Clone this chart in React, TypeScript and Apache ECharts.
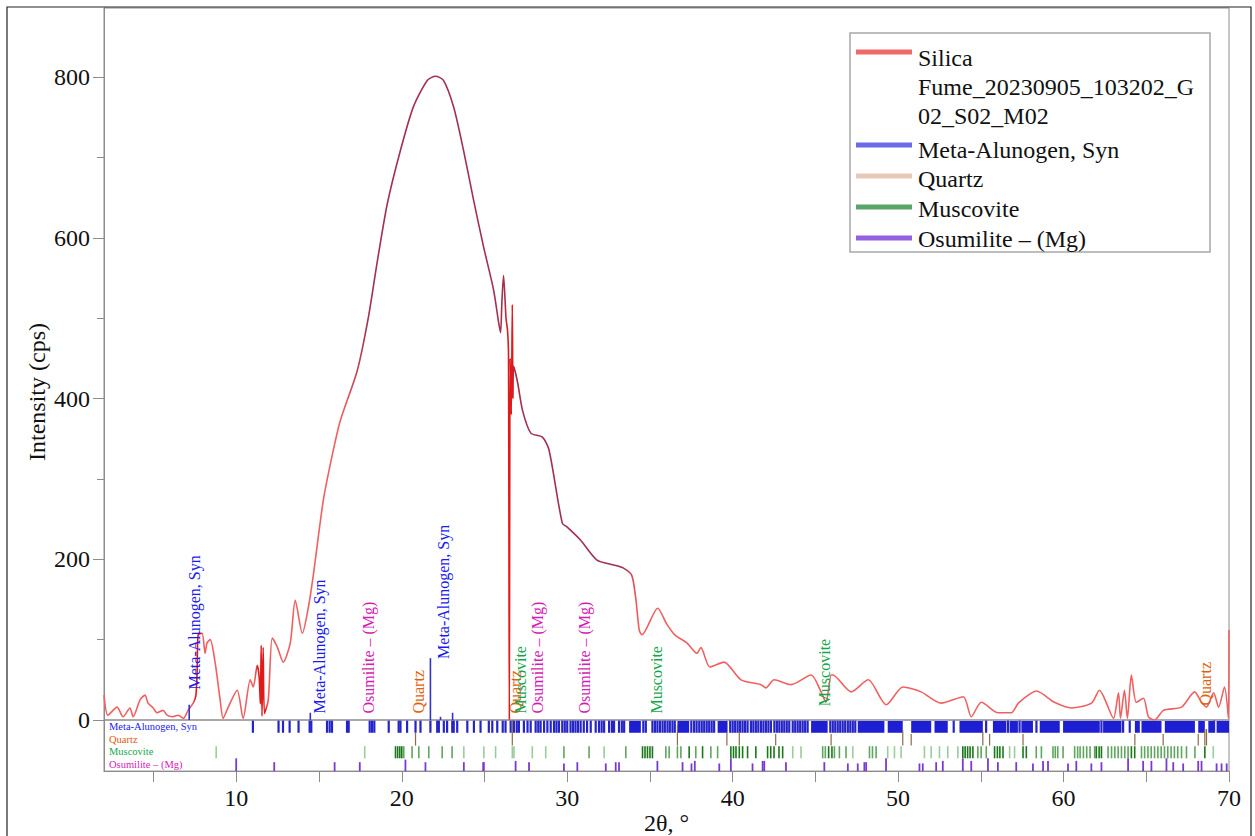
import React, { useEffect, useRef } from "react";
import * as echarts from "echarts";

// Diffraction pattern (2θ in degrees, intensity in cps)
const twoTheta: number[] = [
  2.0, 2.24, 2.79, 3.15, 3.57, 3.76, 4.18, 4.48, 4.66, 4.97, 5.21, 5.57, 5.81, 6.12, 6.48, 6.8,
  7.08, 7.39, 7.55, 7.63, 7.69, 7.93, 8.11, 8.23, 8.42, 8.72, 9.02, 9.2, 9.51, 10.05, 10.41,
  10.84, 11.02, 11.26, 11.38, 11.45, 11.5, 11.55, 11.62, 11.7, 11.93, 12.17, 12.47, 12.84,
  13.26, 13.56, 13.99, 14.35, 14.65, 15.26, 15.8, 16.29, 17.31, 17.98, 18.53, 19.13, 19.92,
  20.7, 21.55, 22.04, 22.52, 23.13, 23.73, 24.34, 24.94, 25.55, 25.85, 25.97, 26.05, 26.15,
  26.3, 26.39, 26.45, 26.5, 26.55, 26.62, 26.68, 26.72, 26.76, 27.0, 27.3, 27.8, 28.5, 28.9,
  29.7, 30.0, 30.8, 31.8, 32.8, 33.4, 33.9, 34.15, 34.35, 34.51, 35.47, 36.0, 36.5, 37.23,
  37.84, 38.08, 38.62, 39.47, 40.5, 41.71, 42.01, 42.5, 43.53, 44.74, 45.34, 45.64, 45.95,
  46.05, 47.16, 48.19, 49.28, 50.3, 51.39, 52.6, 53.94, 54.42, 55.03, 56.05, 56.84, 57.27,
  58.36, 59.45, 60.47, 61.69, 62.17, 62.47, 63.02, 63.32, 63.44, 63.68, 63.86, 64.1, 64.4,
  64.83, 65.13, 65.5, 66.04, 67.13, 67.92, 68.34, 68.64, 69.07, 69.37, 69.73, 69.97, 70.0,
];
const intensity: number[] = [
  31, 6, 16, 4, 15, 4, 25, 31, 21, 15, 9, 12, 6, 4, 6, 2,
  12, 21, 30, 60, 106, 108, 83, 96, 100, 71, 25, 2, 16, 37, 2,
  50, 41, 68, 53, 20, 93, 5, 90, 8, 25, 102, 91, 72,
  96, 149, 108, 140, 180, 274, 330, 373, 435, 501, 572, 643, 709,
  763, 796, 801, 796, 763, 709, 647, 589, 535, 495, 482, 520, 553,
  500, 485, 455, 0, 450, 380, 517, 400, 440, 420, 385, 357, 352, 336,
  245, 240, 224, 199, 193, 189, 180, 150, 112, 106, 139, 120, 106, 96,
  83, 90, 66, 72, 50, 44, 40, 50, 44, 56, 35, 22, 56,
  56, 35, 50, 19, 41, 35, 21, 29, 4, 22, 9, 9, 21,
  36, 22, 15, 21, 37, 27, 2, 34, 2, 37, 2, 56, 22,
  27, 4, 0, 12, 16, 35, 22, 16, 34, 16, 41, 2, 112,
];

const sampleName = "Silica Fume_20230905_103202_G02_S02_M02";
const phaseNames = ["Meta-Alunogen, Syn", "Quartz", "Muscovite", "Osumilite – (Mg)"];

const yLabelTicks = [0, 200, 400, 600, 800];
const yMinorTicks = [100, 300, 500, 700];
const xTickValues = [5, 10, 15, 20, 25, 30, 35, 40, 45, 50, 55, 60, 65, 70];
const xLabelValues = [10, 20, 30, 40, 50, 60, 70];

// Meta-Alunogen reference lines shown in the pattern panel [2θ, intensity]
const metaPeaks: number[][] = [[7.15, 19], [14.47, 9], [21.73, 77], [22.34, 4], [23.07, 9]];

// Phase identifications written above the pattern [phase index, 2θ, intensity]
const peakLabels: number[][] = [
  [0, 7.45, 33], [0, 15.0, 3], [3, 17.98, 3], [1, 21.0, 3], [0, 22.54, 71],
  [1, 26.9, 3], [2, 27.2, 3], [3, 28.2, 3], [3, 31.06, 3], [2, 35.39, 3],
  [2, 45.58, 12], [1, 68.6, 13],
];

// Stick-pattern rows below the pattern
const metaSticks: number[] = [
  11.0, 12.55, 12.82, 13.22, 13.76, 14.43, 14.53, 15.48, 15.64, 15.78, 16.69, 16.79, 18.06,
  18.2, 18.34, 19.21, 19.81, 19.92, 20.32, 20.83, 21.13, 21.73, 22.14, 22.24, 22.54, 22.74,
  23.05, 23.14, 23.35, 23.96, 24.36, 24.76, 25.26, 25.47, 25.77, 26.1, 26.27, 26.58, 26.78,
  26.95, 27.08, 27.38, 27.6, 27.79, 28.09, 28.25, 28.39, 28.6, 28.8, 29.0, 29.2, 29.35, 29.5,
  29.7, 29.85, 30.0, 30.2, 30.35, 30.5, 30.65, 30.81, 31.0, 31.2, 31.42, 31.72, 31.92, 32.08,
  32.23, 32.53, 32.7, 32.83, 33.13, 33.3, 33.44, 34.6, 34.75, 35.15, 35.3, 35.45, 35.6, 35.76,
  35.9, 36.06, 36.2, 36.36, 36.5, 37.5, 37.67, 37.82, 37.98, 38.13, 38.28, 38.43, 38.58, 38.73,
  38.88, 39.85, 40.0, 40.15, 40.3, 40.45, 40.6, 40.75, 40.9, 41.1, 41.25, 41.4, 41.55, 41.71,
  41.86, 42.01, 42.16, 42.31, 42.52, 42.67, 42.82, 42.97, 43.12, 43.27, 43.42, 43.63, 43.78,
  43.93, 44.08, 44.23, 44.38, 44.53, 45.9, 46.05, 46.2, 46.35, 46.5, 46.65, 46.8, 46.96, 47.11,
  47.26, 47.41, 53.36, 55.32, 56.64, 57.34, 58.36, 62.29, 63.6, 64.0, 69.1,
];
const metaBands: number[][] = [
  [33.74, 34.45], [36.66, 37.37], [39.09, 39.69], [44.74, 45.74], [47.56, 49.17], [49.37, 50.28],
  [50.79, 52.0], [52.2, 53.0], [53.71, 55.12], [55.73, 56.54], [56.74, 57.24], [57.45, 58.15],
  [58.56, 59.77], [59.97, 62.19], [62.39, 63.5], [64.31, 64.61], [64.71, 65.92], [66.12, 67.94],
  [68.14, 68.54], [68.75, 69.05], [69.25, 70.0],
];
// [2θ, relative height]
const quartzSticks: number[][] = [
  [20.83, 1], [26.68, 2], [36.66, 1.6], [39.65, 1], [40.4, 1.1], [42.6, 0.9], [45.95, 0.9],
  [50.28, 1.2], [50.79, 0.9], [55.12, 1.1], [55.53, 0.9], [57.55, 0.9], [64.31, 0.9],
  [66.02, 0.9], [68.14, 0.9], [68.54, 1.3], [68.64, 1.3],
];
// [2θ, relative intensity]
const muscoviteSticks: number[][] = [
  [8.78, 0.4], [17.76, 0.4], [19.62, 0.8], [19.75, 0.8], [19.88, 0.8], [20.0, 0.8], [20.12, 0.6],
  [20.62, 0.5], [21.03, 0.5], [21.63, 0.5], [22.44, 0.5], [23.04, 0.5], [23.75, 0.4],
  [24.96, 0.4], [25.67, 0.4], [26.68, 0.4], [26.78, 0.4], [27.89, 0.4], [28.7, 0.4], [29.8, 0.5],
  [31.32, 0.5], [32.23, 0.4], [33.54, 0.5], [34.55, 0.9], [34.7, 0.9], [34.85, 0.9], [35.0, 0.9],
  [35.15, 0.9], [35.96, 0.6], [36.16, 0.6], [36.66, 0.5], [36.87, 0.5], [37.37, 0.9],
  [37.77, 0.6], [38.18, 0.9], [38.68, 0.5], [39.09, 0.5], [39.89, 0.9], [40.05, 0.9],
  [40.2, 0.9], [40.4, 0.9], [40.6, 0.9], [40.9, 0.9], [41.4, 0.9], [42.11, 0.8], [42.3, 0.8],
  [42.5, 0.9], [42.8, 0.9], [43.02, 0.9], [43.63, 0.4], [44.13, 0.4], [45.44, 0.5], [45.6, 0.5],
  [45.8, 0.9], [46.0, 0.9], [46.15, 0.6], [46.45, 0.6], [46.85, 0.6], [47.26, 0.4], [48.27, 0.5],
  [48.45, 0.5], [48.67, 0.5], [49.37, 0.4], [49.78, 0.4], [50.18, 0.4], [51.59, 0.4],
  [52.0, 0.4], [52.5, 0.4], [53.0, 0.4], [53.61, 0.4], [53.91, 1], [54.05, 1], [54.2, 1],
  [54.35, 1], [54.52, 0.9], [54.82, 0.5], [55.02, 0.5], [55.33, 0.5], [55.83, 1], [56.0, 1],
  [56.15, 1], [56.34, 1], [56.74, 0.4], [57.04, 0.4], [57.55, 1], [57.75, 1], [58.35, 0.5],
  [58.66, 0.5], [59.36, 0.7], [59.5, 0.7], [59.65, 0.7], [59.97, 0.7], [60.67, 0.5],
  [60.85, 0.5], [61.0, 0.6], [61.2, 0.6], [61.4, 0.6], [61.6, 0.6], [61.88, 0.7], [61.98, 1],
  [62.15, 1], [62.29, 1], [62.69, 0.6], [62.9, 0.6], [63.1, 0.6], [63.3, 0.6], [63.5, 0.6],
  [63.7, 0.6], [63.9, 0.6], [64.1, 1], [64.3, 1], [64.71, 0.6], [64.9, 0.5], [65.1, 0.6],
  [65.3, 0.5], [65.5, 0.6], [65.7, 0.5], [65.9, 0.6], [66.1, 0.5], [66.3, 0.6], [66.5, 0.5],
  [66.7, 0.6], [66.9, 0.5], [67.13, 0.6], [67.43, 0.5], [67.94, 0.5], [68.54, 1], [69.05, 0.4],
];
// [2θ, relative height]
const osumiliteSticks: number[][] = [
  [9.99, 1], [12.29, 0.7], [15.94, 0.7], [17.46, 0.7], [20.22, 0.9], [21.43, 0.7], [23.75, 0.7],
  [24.92, 0.7], [24.96, 0.7], [26.88, 0.8], [27.69, 0.7], [29.8, 0.6], [30.61, 0.7], [32.33, 0.6],
  [32.93, 0.7], [33.13, 0.7], [35.45, 0.8], [36.97, 0.7], [37.51, 0.6], [37.71, 0.8], [39.19, 0.6],
  [39.89, 1], [41.2, 0.6], [41.81, 0.8], [41.91, 0.8], [43.22, 0.7], [45.54, 0.7], [46.96, 0.6],
  [47.56, 0.6], [48.07, 0.7], [47.96, 0.7], [49.27, 1], [51.29, 0.6], [51.49, 0.6], [52.3, 0.7],
  [52.7, 0.8], [53.91, 1], [54.42, 0.8], [55.43, 1], [56.03, 0.7], [57.14, 0.7], [58.15, 0.6],
  [58.76, 0.8], [59.06, 0.8], [60.27, 0.6], [60.77, 0.8], [61.68, 0.6], [62.29, 0.7],
  [63.9, 1], [64.81, 0.8], [65.31, 0.8], [66.22, 1], [66.63, 0.7], [67.23, 0.6], [68.14, 0.8],
  [68.34, 0.8], [69.25, 0.6], [69.55, 0.6], [69.86, 0.6],
];

const FONT = "Liberation Serif, Times New Roman, serif";
const font = (px: number) => `${px}px ${FONT}`;
const phaseLabelColors = ["#1a1af0", "#e0600c", "#12a84a", "#d41cb4"];
const legendColors = ["#ee6a6a", "#6b6be8", "#e8c8b8", "#5aa56a", "#9560e0"];
const AXIS_GRAY = "#8c8c8c";

function stickSeries(name: string, data: number[][], row: number, draw: (x: number, bottom: number, band: number, v: number[]) => any) {
  return {
    type: "custom",
    name,
    xAxisIndex: 1,
    yAxisIndex: 2,
    silent: true,
    data,
    renderItem: (_p: any, api: any) => {
      const v = [api.value(0), api.value(1)];
      const c = api.coord([v[0], row]);
      const band = api.size([0, 1])[1];
      return draw(c[0], c[1] + band / 2, band, v);
    },
  };
}

export default function App() {
  const ref = useRef<HTMLDivElement>(null);

  useEffect(() => {
    if (!ref.current) return;
    const chart = echarts.init(ref.current, undefined, { renderer: "svg" });

    const curve = twoTheta.map((x, i) => [x, intensity[i]]);
    const salmon = "#f06060";
    const dark = "#a2304e";
    const hot = "#e01a1a";
    const lineGradient = new echarts.graphic.LinearGradient(0, 0, 1, 0, [
      { offset: 0, color: salmon },
      { offset: 0.079, color: salmon },
      { offset: 0.081, color: hot },
      { offset: 0.086, color: hot },
      { offset: 0.088, color: salmon },
      { offset: 0.134, color: salmon },
      { offset: 0.137, color: hot },
      { offset: 0.143, color: hot },
      { offset: 0.146, color: salmon },
      { offset: 0.21, color: salmon },
      { offset: 0.235, color: dark },
      { offset: 0.356, color: dark },
      { offset: 0.3585, color: hot },
      { offset: 0.363, color: hot },
      { offset: 0.3655, color: dark },
      { offset: 0.46, color: dark },
      { offset: 0.475, color: salmon },
      { offset: 1, color: salmon },
    ]);

    const legendTop = 33;
    const legendLeft = 850;
    const legendRows = [
      { text: sampleName, color: legendColors[0], textY: 43, iconY: 52 },
      { text: phaseNames[0], color: legendColors[1], textY: 135, iconY: 145 },
      { text: phaseNames[1], color: legendColors[2], textY: 164, iconY: 176 },
      { text: phaseNames[2], color: legendColors[3], textY: 194, iconY: 207 },
      { text: phaseNames[3], color: legendColors[4], textY: 224, iconY: 238 },
    ];
    const legendChildren: any[] = [
      {
        type: "rect",
        shape: { x: legendLeft, y: legendTop, width: 360, height: 219 },
        style: { fill: "#fff", stroke: "#a8a8a8", lineWidth: 1.5 },
      },
    ];
    legendRows.forEach((r) => {
      legendChildren.push({
        type: "line",
        shape: { x1: legendLeft + 6, y1: r.iconY, x2: legendLeft + 62, y2: r.iconY },
        style: { stroke: r.color, lineWidth: 5 },
      });
      legendChildren.push({
        type: "text",
        x: legendLeft + 68,
        y: r.textY,
        style: {
          text: r.text,
          width: 285,
          overflow: "break",
          lineHeight: 29,
          font: font(24),
          fill: "#111",
          align: "left",
          verticalAlign: "top",
        },
      });
    });

    const option: any = {
      animation: false,
      backgroundColor: "#fff",
      textStyle: { fontFamily: FONT },
      grid: [
        { left: 104, top: 8, width: 1125, height: 712, show: true, borderColor: AXIS_GRAY, borderWidth: 1 },
        { left: 104, top: 720, width: 1125, height: 57, show: true, borderColor: AXIS_GRAY, borderWidth: 1 },
      ],
      xAxis: [
        { gridIndex: 0, type: "value", min: 2, max: 70, show: false },
        {
          gridIndex: 1,
          type: "value",
          min: 2,
          max: 70,
          name: "2θ, °",
          nameLocation: "middle",
          nameGap: 32,
          nameTextStyle: { fontFamily: FONT, fontSize: 24, color: "#111" },
          axisLine: { show: true, lineStyle: { color: AXIS_GRAY } },
          axisTick: { show: true, customValues: xTickValues, length: 11, lineStyle: { color: AXIS_GRAY } },
          axisLabel: { customValues: xLabelValues, fontFamily: FONT, fontSize: 24, color: "#111", margin: 15 },
          splitLine: { show: false },
        },
      ],
      yAxis: [
        {
          gridIndex: 0,
          type: "value",
          min: 0,
          max: 886,
          axisLine: { show: true, lineStyle: { color: AXIS_GRAY } },
          axisTick: { show: true, customValues: yLabelTicks, length: 11, lineStyle: { color: AXIS_GRAY } },
          axisLabel: { customValues: yLabelTicks, fontFamily: FONT, fontSize: 24, color: "#111", margin: 14 },
          splitLine: { show: false },
        },
        {
          gridIndex: 0,
          type: "value",
          min: 0,
          max: 886,
          position: "left",
          axisLine: { show: false },
          axisTick: { show: true, customValues: yMinorTicks, length: 7, lineStyle: { color: AXIS_GRAY } },
          axisLabel: { show: false },
          splitLine: { show: false },
        },
        {
          gridIndex: 1,
          type: "category",
          inverse: true,
          data: phaseNames,
          axisLine: { show: true, lineStyle: { color: AXIS_GRAY } },
          axisTick: { show: false },
          axisLabel: {
            inside: true,
            interval: 0,
            margin: 5,
            fontFamily: FONT,
            fontSize: 10.5,
            color: (v: any) => phaseLabelColors[Math.max(0, phaseNames.indexOf(v))],
          },
          splitLine: { show: false },
        },
      ],
      series: [
        {
          type: "line",
          name: sampleName,
          xAxisIndex: 0,
          yAxisIndex: 0,
          data: curve,
          showSymbol: false,
          smooth: 0.25,
          clip: true,
          lineStyle: { color: lineGradient, width: 1.6 },
          z: 3,
        },
        {
          type: "custom",
          name: phaseNames[0] + " peaks",
          xAxisIndex: 0,
          yAxisIndex: 0,
          silent: true,
          data: metaPeaks,
          renderItem: (_p: any, api: any) => {
            const a = api.coord([api.value(0), 0]);
            const b = api.coord([api.value(0), api.value(1)]);
            return {
              type: "line",
              shape: { x1: a[0], y1: a[1], x2: b[0], y2: b[1] },
              style: { stroke: "#3434c8", lineWidth: 1.6 },
            };
          },
          z: 4,
        },
        {
          type: "custom",
          name: "labels",
          xAxisIndex: 0,
          yAxisIndex: 0,
          silent: true,
          data: peakLabels,
          renderItem: (_p: any, api: any) => {
            const phase = api.value(0);
            const p = api.coord([api.value(1), api.value(2)]);
            return {
              type: "text",
              x: p[0],
              y: p[1] - 4,
              rotation: Math.PI / 2,
              style: {
                text: phaseNames[phase],
                font: font(16),
                fill: phaseLabelColors[phase],
                align: "left",
                verticalAlign: "middle",
              },
            };
          },
          z: 5,
        },
        stickSeries(
          phaseNames[0],
          metaSticks.map((x) => [x, 1]),
          0,
          (x, bottom, band) => ({
            type: "line",
            shape: { x1: x, y1: bottom, x2: x, y2: bottom - band * 0.95 },
            style: { stroke: "#2424c8", lineWidth: 2.2 },
          })
        ),
        {
          type: "custom",
          name: phaseNames[0] + " band",
          xAxisIndex: 1,
          yAxisIndex: 2,
          silent: true,
          data: metaBands,
          renderItem: (_p: any, api: any) => {
            const a = api.coord([api.value(0), 0]);
            const b = api.coord([api.value(1), 0]);
            const band = api.size([0, 1])[1];
            return {
              type: "rect",
              shape: { x: a[0], y: a[1] - band / 2 + 1, width: Math.max(1.5, b[0] - a[0]), height: band - 1 },
              style: { fill: "#1e1ed2" },
            };
          },
        },
        stickSeries(phaseNames[1], quartzSticks, 1, (x, bottom, band, v) => ({
          type: "line",
          shape: { x1: x, y1: bottom, x2: x, y2: bottom - band * v[1] },
          style: { stroke: "#8c6a4c", lineWidth: 1.2 },
        })),
        stickSeries(phaseNames[2], muscoviteSticks, 2, (x, bottom, band, v) => ({
          type: "line",
          shape: { x1: x, y1: bottom, x2: x, y2: bottom - band * 0.95 },
          style: { stroke: v[1] > 0.75 ? "#1a781a" : v[1] > 0.45 ? "#5fa65f" : "#9ccb9c", lineWidth: 1.6 },
        })),
        stickSeries(phaseNames[3], osumiliteSticks, 3, (x, bottom, band, v) => ({
          type: "line",
          shape: { x1: x, y1: bottom, x2: x, y2: bottom - band * v[1] },
          style: { stroke: "#7a3ad0", lineWidth: 1.8 },
        })),
      ],
      graphic: [
        {
          type: "rect",
          shape: { x: 7, y: 7, width: 1244, height: 850 },
          style: { fill: "none", stroke: "#222", lineWidth: 1.2 },
          silent: true,
          z: 100,
        },
        {
          type: "text",
          x: 37,
          y: 392,
          rotation: Math.PI / 2,
          style: {
            text: "Intensity (cps)",
            font: font(24),
            fill: "#111",
            align: "center",
            verticalAlign: "middle",
          },
        },
        { type: "group", children: legendChildren, z: 50 },
      ],
    };

    chart.setOption(option);
    return () => chart.dispose();
  }, []);

  return (
    <div
      ref={ref}
      style={{ position: "absolute", left: 0, top: 0, width: 1255, height: 836, background: "#fff" }}
    />
  );
}
